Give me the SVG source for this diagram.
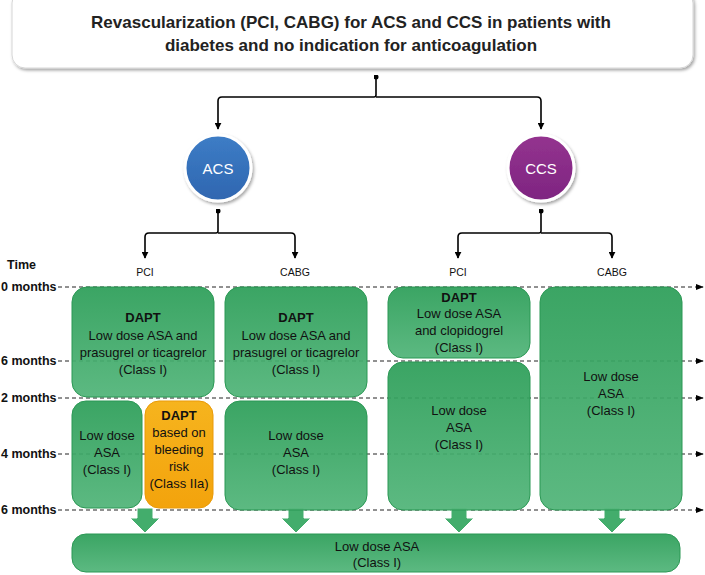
<svg xmlns="http://www.w3.org/2000/svg" width="705" height="575" viewBox="0 0 705 575">
  <defs>
    <linearGradient id="gGreen" x1="0" y1="0" x2="0" y2="1">
      <stop offset="0" stop-color="#2C9E58"/>
      <stop offset="1" stop-color="#50B478"/>
    </linearGradient>
    <linearGradient id="gYellow" x1="0" y1="0" x2="0" y2="1">
      <stop offset="0" stop-color="#F6B41E"/>
      <stop offset="1" stop-color="#F3A30C"/>
    </linearGradient>
    <linearGradient id="gBlue" x1="0" y1="0" x2="0" y2="1">
      <stop offset="0" stop-color="#3D7DC6"/>
      <stop offset="1" stop-color="#2F66B0"/>
    </linearGradient>
    <linearGradient id="gPurple" x1="0" y1="0" x2="0" y2="1">
      <stop offset="0" stop-color="#94338F"/>
      <stop offset="1" stop-color="#7E2581"/>
    </linearGradient>
    <filter id="shadow" x="-10%" y="-20%" width="120%" height="150%">
      <feDropShadow dx="1.5" dy="2" stdDeviation="1.5" flood-color="#000" flood-opacity="0.35"/>
    </filter>
    <marker id="arrow" viewBox="0 0 10 10" refX="9" refY="5" markerWidth="7" markerHeight="7" orient="auto" markerUnits="userSpaceOnUse">
      <path d="M0,0 L10,5 L0,10 Z" fill="#000"/>
    </marker>
    <marker id="dot" viewBox="0 0 10 10" refX="5" refY="5" markerWidth="5" markerHeight="5" markerUnits="userSpaceOnUse">
      <circle cx="5" cy="5" r="5" fill="#000"/>
    </marker>
    <marker id="tip" viewBox="0 0 10 10" refX="9" refY="5" markerWidth="8" markerHeight="8" orient="auto" markerUnits="userSpaceOnUse">
      <path d="M0,1 L10,5 L0,9 Z" fill="#000"/>
    </marker>
  </defs>
  <style>
    text { font-family: "Liberation Sans", Arial, sans-serif; fill: #111; }
    .title { font-size: 17px; font-weight: bold; text-anchor: middle; fill: #222; }
    .box { fill: url(#gGreen); fill-opacity: 0.93; stroke: #2B9854; stroke-width: 1; }
    .ybox { fill: url(#gYellow); stroke: #E99A08; stroke-width: 1; }
    .t { font-size: 13px; text-anchor: middle; }
    .b { font-weight: bold; }
    .lbl { font-size: 10.5px; text-anchor: middle; }
    .mon { font-size: 12.5px; font-weight: bold; }
    .conn { fill: none; stroke: #000; stroke-width: 1.6; }
    .dash { fill: none; stroke: #222; stroke-width: 1; stroke-dasharray: 4 3; }
    .blk { fill: #43AD6C; stroke: #fff; stroke-width: 1; }
    .circ-t { font-size: 15px; fill: #fff; text-anchor: middle; }
  </style>

  <!-- title -->
  <g id="title">
    <rect x="12" y="-10" width="681" height="78" rx="13" fill="#fff" stroke="#d6d6d6" stroke-width="1" filter="url(#shadow)"/>
    <text class="title" x="351" y="28">Revascularization (PCI, CABG) for ACS and CCS in patients with</text>
    <text class="title" x="351" y="51">diabetes and no indication for anticoagulation</text>
  </g>

  <!-- connectors -->
  <g id="connectors">
    <path class="conn" d="M376,77 V95 Q376,97 374,97 H222 Q218,97 218,101 V129" marker-start="url(#dot)" marker-end="url(#arrow)"/>
    <path class="conn" d="M376,97 H537 Q541,97 541,101 V129" marker-end="url(#arrow)"/>
    <path class="conn" d="M218,211 V231 Q218,233 216,233 H149 Q145,233 145,237 V258" marker-start="url(#dot)" marker-end="url(#arrow)"/>
    <path class="conn" d="M218,233 H291 Q295,233 295,237 V258" marker-end="url(#arrow)"/>
    <path class="conn" d="M541,211 V231 Q541,233 539,233 H462 Q458,233 458,237 V258" marker-start="url(#dot)" marker-end="url(#arrow)"/>
    <path class="conn" d="M541,233 H608 Q612,233 612,237 V258" marker-end="url(#arrow)"/>
  </g>

  <!-- time axis -->
  <g id="timeline">
    <text class="mon" x="7" y="269">Time</text>
    <text class="mon" x="1" y="291">0 months</text>
    <text class="mon" x="1" y="365">6 months</text>
    <text class="mon" x="1" y="402">2 months</text>
    <text class="mon" x="1" y="458">4 months</text>
    <text class="mon" x="1" y="514">6 months</text>
    <path class="dash" d="M58,287 H703" marker-end="url(#tip)"/>
    <path class="dash" d="M58,361 H703" marker-end="url(#tip)"/>
    <path class="dash" d="M58,398 H703" marker-end="url(#tip)"/>
    <path class="dash" d="M58,454 H703" marker-end="url(#tip)"/>
    <path class="dash" d="M58,510 H703" marker-end="url(#tip)"/>
  </g>

  <!-- ACS / CCS -->
  <g id="acs">
    <circle cx="218" cy="168" r="33" fill="url(#gBlue)" stroke="#fff" stroke-width="3" filter="url(#shadow)"/>
    <text class="circ-t" x="218" y="174">ACS</text>
  </g>
  <g id="ccs">
    <circle cx="541" cy="168" r="33" fill="url(#gPurple)" stroke="#fff" stroke-width="3" filter="url(#shadow)"/>
    <text class="circ-t" x="541" y="174">CCS</text>
  </g>

  <!-- column labels -->
  <g id="labels">
    <text class="lbl" x="145" y="276">PCI</text>
    <text class="lbl" x="295" y="276">CABG</text>
    <text class="lbl" x="458" y="276">PCI</text>
    <text class="lbl" x="612" y="276">CABG</text>
  </g>

  <!-- block arrows to the lifelong box -->
  <g id="block-arrows">
    <path class="blk" d="M137,508 H153 V518 H160 L145,533 L130,518 H137 Z"/>
    <path class="blk" d="M288,508 H304 V518 H311 L296,533 L281,518 H288 Z"/>
    <path class="blk" d="M451,508 H467 V518 H474 L459,533 L444,518 H451 Z"/>
    <path class="blk" d="M604,508 H620 V518 H627 L612,533 L597,518 H604 Z"/>
  </g>

  <!-- ACS PCI -->
  <g id="acs-pci-dapt">
    <rect class="box" x="72" y="287" width="142" height="110" rx="15"/>
    <text class="t b" x="143" y="322">DAPT</text>
    <text class="t" x="143" y="340">Low dose ASA and</text>
    <text class="t" x="143" y="357">prasugrel or ticagrelor</text>
    <text class="t" x="143" y="374">(Class I)</text>
  </g>
  <g id="acs-pci-asa">
    <rect class="box" x="72" y="401" width="70" height="107" rx="14"/>
    <text class="t" x="107" y="440">Low dose</text>
    <text class="t" x="107" y="457">ASA</text>
    <text class="t" x="107" y="474">(Class I)</text>
  </g>
  <g id="acs-pci-bleeding">
    <rect class="ybox" x="145" y="401" width="68" height="107" rx="14"/>
    <text class="t b" x="179" y="420">DAPT</text>
    <text class="t" x="179" y="437">based on</text>
    <text class="t" x="179" y="454">bleeding</text>
    <text class="t" x="179" y="471">risk</text>
    <text class="t" x="179" y="488">(Class IIa)</text>
  </g>

  <!-- ACS CABG -->
  <g id="acs-cabg-dapt">
    <rect class="box" x="225" y="287" width="142" height="110" rx="15"/>
    <text class="t b" x="296" y="322">DAPT</text>
    <text class="t" x="296" y="340">Low dose ASA and</text>
    <text class="t" x="296" y="357">prasugrel or ticagrelor</text>
    <text class="t" x="296" y="374">(Class I)</text>
  </g>
  <g id="acs-cabg-asa">
    <rect class="box" x="225" y="401" width="142" height="109" rx="15"/>
    <text class="t" x="296" y="440">Low dose</text>
    <text class="t" x="296" y="457">ASA</text>
    <text class="t" x="296" y="474">(Class I)</text>
  </g>

  <!-- CCS PCI -->
  <g id="ccs-pci-dapt">
    <rect class="box" x="388" y="287" width="142" height="71" rx="15"/>
    <text class="t b" x="459" y="302">DAPT</text>
    <text class="t" x="459" y="318">Low dose ASA</text>
    <text class="t" x="459" y="335">and clopidogrel</text>
    <text class="t" x="459" y="352">(Class I)</text>
  </g>
  <g id="ccs-pci-asa">
    <rect class="box" x="388" y="362" width="142" height="148" rx="15"/>
    <text class="t" x="459" y="415">Low dose</text>
    <text class="t" x="459" y="432">ASA</text>
    <text class="t" x="459" y="449">(Class I)</text>
  </g>

  <!-- CCS CABG -->
  <g id="ccs-cabg-asa">
    <rect class="box" x="540" y="287" width="142" height="223" rx="15"/>
    <text class="t" x="611" y="381">Low dose</text>
    <text class="t" x="611" y="398">ASA</text>
    <text class="t" x="611" y="415">(Class I)</text>
  </g>

  <!-- lifelong -->
  <g id="lifelong-asa">
    <rect class="box" x="72" y="534" width="608" height="38" rx="14"/>
    <text class="t" x="377" y="551">Low dose ASA</text>
    <text class="t" x="377" y="567">(Class I)</text>
  </g>
</svg>
